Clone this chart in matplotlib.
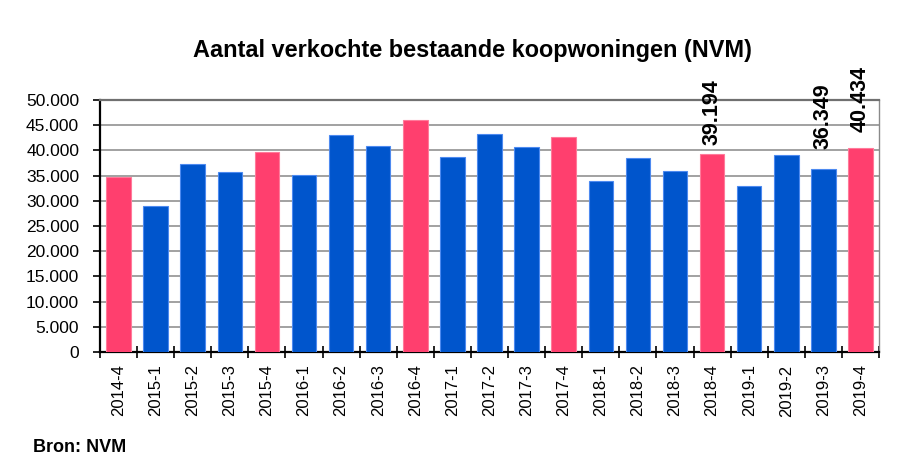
import matplotlib
matplotlib.use("Agg")
import matplotlib.pyplot as plt
import numpy as np

plt.rcParams['font.family'] = ['Liberation Sans', 'DejaVu Sans']

categories = ["2014-4", "2015-1", "2015-2", "2015-3", "2015-4", "2016-1", "2016-2",
              "2016-3", "2016-4", "2017-1", "2017-2", "2017-3", "2017-4", "2018-1",
              "2018-2", "2018-3", "2018-4", "2019-1", "2019-2", "2019-3", "2019-4"]
values = [34750, 29000, 37300, 35800, 39700, 35100, 43050,
          40900, 46000, 38700, 43250, 40700, 42700, 34000,
          38500, 36000, 39194, 32900, 39100, 36349, 40434]
labelled = {"2018-4": "39.194", "2019-3": "36.349", "2019-4": "40.434"}
yticks = [0, 5000, 10000, 15000, 20000, 25000, 30000, 35000, 40000, 45000, 50000]
ytick_labels = ["0", "5.000", "10.000", "15.000", "20.000", "25.000", "30.000",
                "35.000", "40.000", "45.000", "50.000"]

# label offsets (points above bar top) - style only
label_offsets = {"2018-4": 7, "2019-3": 14, "2019-4": 12}

PINK = "#FF3F6E"
BLUE = "#0055CC"
colors = [PINK if c.endswith("-4") else BLUE for c in categories]
edges = ["#FF7A9A" if c.endswith("-4") else "#4D8AF0" for c in categories]

fig = plt.figure(figsize=(9.11, 4.75), dpi=100)
ax = fig.add_axes([100/911, 1-352/475, (879-100)/911, 252/475])

x = np.arange(len(categories))
ax.bar(x, values, width=0.66, color=colors, edgecolor=edges, linewidth=0.8, zorder=3)

ax.set_xlim(-0.5, len(categories) - 0.5)
ax.set_ylim(0, 50000)
ax.set_yticks(yticks)
ax.set_yticklabels(ytick_labels, fontsize=12.5)
ax.yaxis.grid(True, color="#9A9A9A", linewidth=1.3, zorder=0)
ax.set_axisbelow(True)

ax.set_xticks(x)
ax.set_xticklabels(categories, rotation=90, fontsize=12)
ax.tick_params(axis='x', which='major', length=0, pad=9)
ax.set_xticks(np.arange(-0.5, len(categories), 1.0), minor=True)
ax.tick_params(axis='x', which='minor', direction='inout', length=8, width=1.2, color='black')
ax.tick_params(axis='y', direction='out', length=5, width=1.2, pad=10)

for s in ['left', 'bottom']:
    ax.spines[s].set_color('black')
    ax.spines[s].set_linewidth(1.6)
ax.spines['top'].set_color('#707070')
ax.spines['top'].set_linewidth(1.6)
ax.spines['right'].set_color('#8A8A8A')
ax.spines['right'].set_linewidth(1.0)

for i, c in enumerate(categories):
    if c in labelled:
        ax.annotate(labelled[c], (x[i], values[i]), xytext=(0, label_offsets[c]),
                    textcoords='offset points', rotation=90, ha='center', va='bottom',
                    fontsize=15.5, fontweight='bold', annotation_clip=False, zorder=5)

fig.text(472/911, 1-50/475, "Aantal verkochte bestaande koopwoningen (NVM)",
         ha='center', va='center', fontsize=16.9, fontweight='bold')
fig.text(33/911, 1-447/475, "Bron: NVM", ha='left', va='center', fontsize=13, fontweight='bold')

fig.savefig("out.png", dpi=100)
